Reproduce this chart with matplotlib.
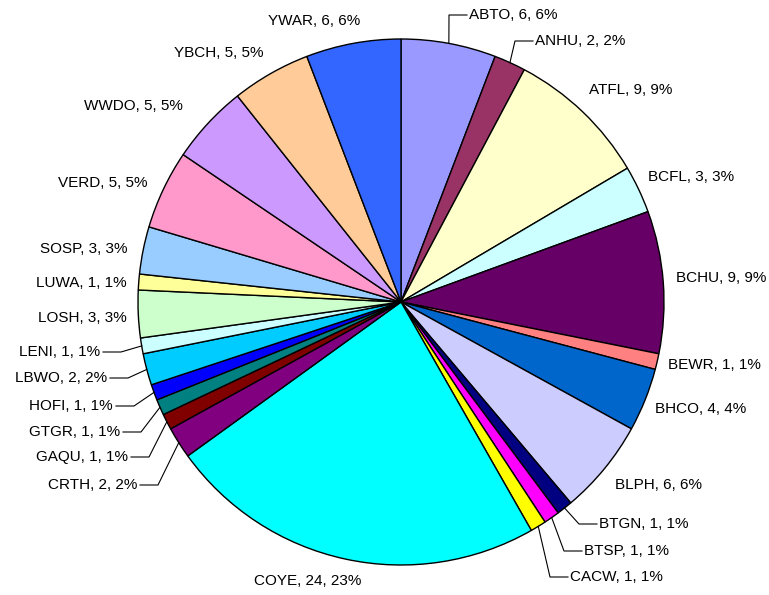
import matplotlib.pyplot as plt
import numpy as np

species = ['ABTO', 'ANHU', 'ATFL', 'BCFL', 'BCHU', 'BEWR', 'BHCO', 'BLPH', 'BTGN',
           'BTSP', 'CACW', 'COYE', 'CRTH', 'GAQU', 'GTGR', 'HOFI', 'LBWO', 'LENI',
           'LOSH', 'LUWA', 'SOSP', 'VERD', 'WWDO', 'YBCH', 'YWAR']
counts = [6, 2, 9, 3, 9, 1, 4, 6, 1, 1, 1, 24, 2, 1, 1, 1, 2, 1, 3, 1, 3, 5, 5, 5, 6]
colors = ['#9999FF', '#993366', '#FFFFCC', '#CCFFFF', '#660066', '#FF8080', '#0066CC',
          '#CCCCFF', '#000080', '#FF00FF', '#FFFF00', '#00FFFF', '#800080', '#800000',
          '#008080', '#0000FF', '#00CCFF', '#CCFFFF', '#CCFFCC', '#FFFF99', '#99CCFF',
          '#FF99CC', '#CC99FF', '#FFCC99', '#3366FF']

# label anchor (x, y, ha, leader) in pixel units of the figure
label_pos = [
    (469, 15, 'left', True), (535, 41, 'left', True), (589, 90, 'left', False),
    (648, 177, 'left', False), (676, 278, 'left', False), (668, 365, 'left', False),
    (655, 409, 'left', False), (615, 485, 'left', False), (599, 524, 'left', True),
    (584, 551, 'left', True), (570, 577, 'left', True), (308, 581, 'center', False),
    (137, 485, 'right', True), (128, 457, 'right', True), (120, 432, 'right', True),
    (113, 406, 'right', True), (107, 378, 'right', True), (100, 352, 'right', True),
    (127, 318, 'right', False), (127, 283, 'right', False), (128, 249, 'right', False),
    (147, 183, 'right', False), (183, 106, 'right', False), (263, 53, 'right', False),
    (360, 21, 'right', False),
]

W, H = 769, 595
fig = plt.figure(figsize=(W / 100, H / 100), dpi=100)
ax = fig.add_axes([0, 0, 1, 1])

cx, cy, r = 401, 302, 263
# y axis is flipped, so counterclock=True draws clockwise on screen
wedges, _ = ax.pie(counts, colors=colors, center=(cx, cy), radius=r,
                   startangle=-90, counterclock=True, frame=True,
                   wedgeprops=dict(edgecolor='black', linewidth=1))
ax.set_xlim(0, W)
ax.set_ylim(H, 0)
ax.set_aspect('equal')
ax.axis('off')

total = sum(counts)
for w, name, n, (tx, ty, ha, leader) in zip(wedges, species, counts, label_pos):
    pct = round(100 * n / total)
    ax.text(tx, ty, f'{name}, {n}, {pct}%', ha=ha, va='center',
            fontsize=11, family='Liberation Sans', color='black')
    if leader:
        mid = np.deg2rad((w.theta1 + w.theta2) / 2)
        ex, ey = cx + r * np.cos(mid), cy + r * np.sin(mid)
        if ha == 'left':
            x_end = tx - 2
            elbow = x_end - 18
        else:
            x_end = tx + 3
            elbow = x_end + 18
        ax.plot([ex, elbow, x_end], [ey, ty, ty], color='black', linewidth=0.8)

fig.savefig('out.png', dpi=100)
